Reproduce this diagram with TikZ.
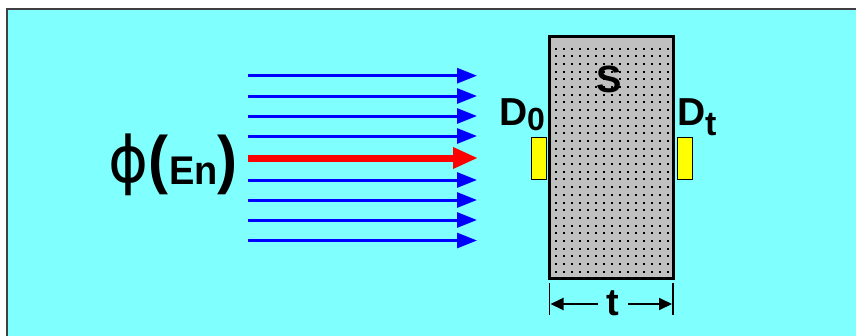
\documentclass[tikz,border=0pt]{standalone}
\usepackage{fontspec}
\usepackage{graphicx}
\setmainfont{Liberation Sans}
\newfontfamily\phifont{DejaVu Sans}
\usetikzlibrary{arrows.meta}
\definecolor{bgcyan}{HTML}{80FFFF}
\definecolor{slabgray}{HTML}{C0C0C0}
\definecolor{rayblue}{HTML}{0000FF}
\definecolor{rayred}{HTML}{FF0000}
\definecolor{detyellow}{HTML}{FFFF00}
\definecolor{framegray}{HTML}{404040}
\tikzset{
  bluray/.style={draw=rayblue, line width=3pt, -{Triangle[length=20pt,width=15pt]}},
  redray/.style={draw=rayred, line width=7pt, -{Triangle[length=25pt,width=20pt]}},
  lbl/.style={inner sep=0pt, outer sep=0pt, font=\bfseries\fontsize{39}{39}\selectfont},
  detector/.style={draw=black, line width=1pt, fill=detyellow, minimum width=15pt, minimum height=42pt, inner sep=0pt, outer sep=0pt},
  dimarrow/.style={line width=2pt, -{Triangle[length=13pt,width=12pt]}},
  tick/.style={line width=1.5pt},
}
\newcommand{\bigparen}[1]{\raisebox{1pt}{\scalebox{1}[1.07]{\bfseries\fontsize{60}{60}\selectfont #1}}}
\begin{document}
\begin{tikzpicture}[x=1pt,y=-1pt]
\useasboundingbox (0,0) rectangle (856,335);
\fill[white] (0,0) rectangle (856,335);
\fill[bgcyan] (6.5,8.5) rectangle (860,340);
\draw[framegray, line width=2pt] (6.5,340) -- (6.5,8.5) -- (860,8.5);
% rays
\foreach \i/\yy in {1/75.7,2/96,3/116,4/136,6/180,7/200,8/220,9/240.5}{
  \coordinate (s\i) at (248,\yy);
  \coordinate (e\i) at (477,\yy);
  \draw[bluray] (s\i) -- (e\i);
}
\coordinate (s5) at (248,158);
\coordinate (e5) at (478,158);
\draw[redray] (s5) -- (e5);
% slab
\node (slab) [draw=black, line width=3pt, fill=slabgray, minimum width=123.5pt, minimum height=242pt, inner sep=0pt, outer sep=0pt] at (611.25,157.5) {};
\foreach \cx in {0,...,14}{
  \foreach \cy in {0,...,29}{
    \fill[black] ({555.5+8*\cx-1},{48.5+7.7*\cy-1}) rectangle ++(2,2);
  }
}
\node (S) [lbl, font=\bfseries\fontsize{38}{38}\selectfont] at (609.5,79) {S};
% detectors
\node (det0) [detector] at (538.5,158) {};
\node (dett) [detector] at (684.5,158) {};
\node (D0) [lbl, anchor=base west] at (499,125) {D\raisebox{-5pt}{\fontsize{32}{32}\selectfont 0}};
\node (Dt) [lbl, anchor=base west] at (677,125) {D\raisebox{-10pt}{\fontsize{34}{34}\selectfont t}};
% dimension
\coordinate (tl0) at (549.5,283);
\coordinate (tl1) at (549.5,315);
\coordinate (tr0) at (673,283);
\coordinate (tr1) at (673,315);
\draw[tick] (tl0) -- (tl1);
\draw[tick] (tr0) -- (tr1);
\node (t) [lbl, font=\bfseries\fontsize{38}{38}\selectfont, inner xsep=9pt] at (613,303) {t};
\coordinate (al) at (550.5,304);
\coordinate (ar) at (672,304);
\draw[dimarrow] (t.west |- al) -- (al);
\draw[dimarrow] (t.east |- ar) -- (ar);
% flux label
\node (flux) [inner sep=0pt, anchor=base west] at (108,182) {%
  \makebox[40pt][l]{\scalebox{0.95}[1]{\phifont\fontsize{64}{64}\selectfont\symbol{"03D5}}}%
  \makebox[21pt][l]{\bigparen{(}}%
  \makebox[48pt][l]{\raisebox{-2pt}{\scalebox{0.95}[1]{\bfseries\fontsize{40}{40}\selectfont En}}}%
  \bigparen{)}};
\end{tikzpicture}
\end{document}
